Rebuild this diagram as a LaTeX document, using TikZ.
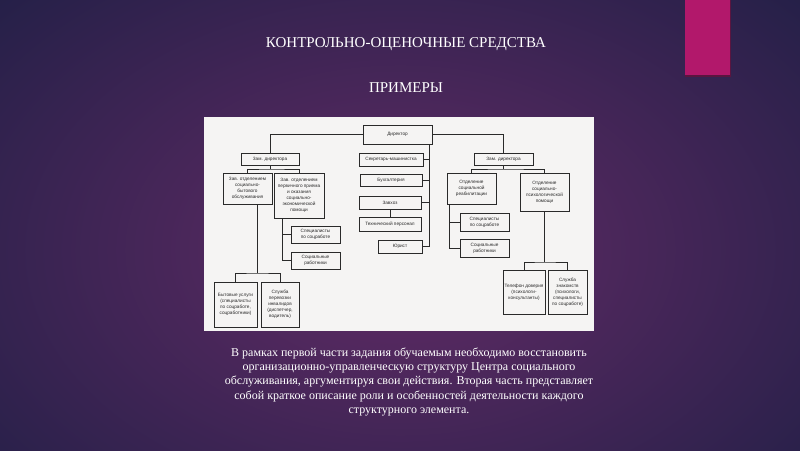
\documentclass[tikz,border=0pt]{standalone}
\usepackage{fontspec}
\setmainfont{Liberation Serif}
\newfontfamily\chartfont{Liberation Sans}
\definecolor{navy}{HTML}{252048}
\definecolor{plum}{HTML}{622B66}
\definecolor{pinkbar}{HTML}{B2186B}
\definecolor{pinkshadow}{HTML}{5A1540}
\definecolor{panel}{HTML}{F5F4F3}
\definecolor{ink}{HTML}{2A2A2A}
\tikzset{
  box/.style={draw=ink, line width=0.7pt, fill=panel, inner sep=0pt, align=center,
    font=\chartfont\fontsize{4.7}{6}\selectfont, text=ink},
  link/.style={draw=ink, line width=0.7pt},
  slidetext/.style={text=white, inner sep=0pt, align=center}
}
\begin{document}
\begin{tikzpicture}[x=1pt,y=-1pt]
\useasboundingbox (0,0) rectangle (800,450);
% background
\shade[inner color=plum, outer color=navy] (-150,-120) rectangle (950,620);
% pink bar
\fill[pinkshadow] (685,0) rectangle (731,77);
\fill[pinkbar] (685,0) rectangle (730,75);
% title
\node[slidetext, font=\fontsize{15}{17}\selectfont] (title) at (406,44) {КОНТРОЛЬНО-ОЦЕНОЧНЫЕ СРЕДСТВА};
\node[slidetext, font=\fontsize{15}{17}\selectfont] (sub) at (406,88) {ПРИМЕРЫ};
% chart panel
\fill[panel] (204,117) rectangle (594,331);
% boxes
\node[box, minimum width=69pt, minimum height=19pt] (dir) at (397.5,134.5) {Директор};
\node[box, minimum width=58pt, minimum height=12pt] (zl) at (270,159) {Зам. директора};
\node[box, minimum width=59pt, minimum height=12pt] (zr) at (503.5,159) {Зам. директора};
\node[box, minimum width=64pt, minimum height=13pt] (sec) at (391,159.5) {Секретарь-машинистка};
\node[box, minimum width=62pt, minimum height=12pt] (buh) at (391,180) {Бухгалтерия};
\node[box, minimum width=62pt, minimum height=13pt] (zav) at (390,202.5) {Завхоз};
\node[box, minimum width=62pt, minimum height=14pt] (tech) at (390,224) {Технический персонал};
\node[box, minimum width=44pt, minimum height=13pt] (jur) at (400,246.5) {Юрист};
\node[box, minimum width=49pt, minimum height=31pt] (A) at (247.5,188.5) {Зав. отделением\\социально-\\бытового\\обслуживания};
\node[box, minimum width=50pt, minimum height=45pt] (B) at (299,195.5) {Зав. отделением\\первичного приема\\и оказания\\социально-\\экономической\\помощи};
\node[box, minimum width=43pt, minimum height=45pt] (byt) at (235.5,304.5) {Бытовые услуги\\(специалисты\\по соцработе,\\соцработники)};
\node[box, minimum width=38pt, minimum height=45pt] (perev) at (280,304.5) {Служба\\перевозки\\инвалидов\\(диспетчер,\\водитель)};
\node[box, minimum width=49pt, minimum height=17pt] (spL) at (315.5,234.5) {Специалисты\\по соцработе};
\node[box, minimum width=49pt, minimum height=17pt] (soL) at (315.5,260.5) {Социальные\\работники};
\node[box, minimum width=49pt, minimum height=31pt] (reab) at (471.5,188.5) {Отделение\\социальной\\реабилитации};
\node[box, minimum width=49pt, minimum height=38pt] (psy) at (544.5,192) {Отделение\\социально-\\психологической\\помощи};
\node[box, minimum width=49pt, minimum height=18pt] (spR) at (484.5,222) {Специалисты\\по соцработе};
\node[box, minimum width=49pt, minimum height=18pt] (soR) at (484.5,248) {Социальные\\работники};
\node[box, minimum width=42pt, minimum height=44pt] (tel) at (524,292) {Телефон доверия\\(психологи-\\консультанты)};
\node[box, minimum width=39pt, minimum height=44pt] (zn) at (567.5,292) {Служба\\знакомств\\(психологи,\\специалисты\\по соцработе)};
% helper coordinates
\coordinate (mv) at (429,144);
\coordinate (zlb) at (270,169);
\coordinate (zrb) at (503.5,169);
\coordinate (ab) at (257,273);
\coordinate (bv) at (282,0);
\coordinate (rv) at (449,0);
\coordinate (pb) at (544.5,262);
% connectors
\draw[link] (dir.west) -| (zl.north);
\draw[link] (dir.east) -| (zr.north);
\draw[link] (mv) |- (jur.east);
\draw[link] (sec.east) -- (sec.east -| mv);
\draw[link] (buh.east) -- (buh.east -| mv);
\draw[link] (zav.east) -- (zav.east -| mv);
\draw[link] (zav.south) -- (tech.north);
\draw[link] (zl.south) -- (zlb);
\draw[link] (A.north) |- (zlb) -| (B.north);
\draw[link] (A.south -| ab) -- (ab);
\draw[link] (byt.north) |- (ab) -| (perev.north);
\draw[link] (B.south -| bv) |- (soL.west);
\draw[link] (spL.west) -- (spL.west -| bv);
\draw[link] (zr.south) -- (zrb);
\draw[link] (reab.north) |- (zrb) -| (psy.north);
\draw[link] (reab.south -| rv) |- (soR.west);
\draw[link] (spR.west) -- (spR.west -| rv);
\draw[link] (psy.south) -- (pb);
\draw[link] (tel.north) |- (pb) -| (zn.north);
% paragraph
\node[slidetext, font=\fontsize{12}{14.25}\selectfont, anchor=north] (para) at (409,347.5) {В рамках первой части задания обучаемым необходимо восстановить\\
организационно-управленческую структуру Центра социального\\
обслуживания, аргументируя свои действия. Вторая часть представляет\\
собой краткое описание роли и особенностей деятельности каждого\\
структурного элемента.};
\end{tikzpicture}
\end{document}
